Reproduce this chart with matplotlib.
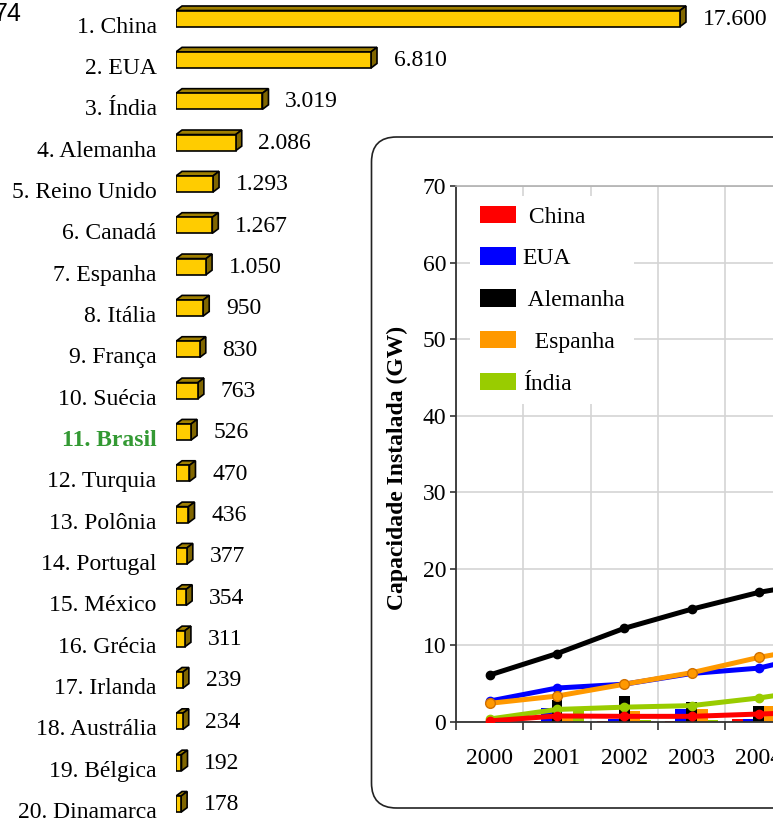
import numpy as np
import matplotlib
matplotlib.use('Agg')
import matplotlib.pyplot as plt
from matplotlib.patches import Polygon, FancyBboxPatch, Patch
from matplotlib.transforms import IdentityTransform

plt.rcParams['font.family'] = ['Liberation Serif', 'DejaVu Serif']

# Ranking: new wind capacity (MW)
countries = ['China', 'EUA', 'Índia', 'Alemanha', 'Reino Unido', 'Canadá',
             'Espanha', 'Itália', 'França', 'Suécia', 'Brasil', 'Turquia',
             'Polônia', 'Portugal', 'México', 'Grécia', 'Irlanda', 'Austrália',
             'Bélgica', 'Dinamarca']
added_mw = [17600, 6810, 3019, 2086, 1293, 1267, 1050, 950, 830, 763,
            526, 470, 436, 377, 354, 311, 239, 234, 192, 178]

# Installed capacity (GW) per year
years = [2000, 2001, 2002, 2003, 2004, 2005]
cap_china = [0.1, 0.75, 0.7, 0.7, 1.0, 1.3]
cap_eua = [2.7, 4.4, 4.9, 6.3, 7.0, 9.1]
cap_alemanha = [6.1, 8.9, 12.2, 14.7, 16.9, 18.4]
cap_espanha = [2.4, 3.35, 4.9, 6.4, 8.4, 10.0]
cap_india = [0.35, 1.6, 1.9, 2.1, 3.1, 4.4]

# Yearly additions (GW)
new_china = [0, 0.06, 0.07, 0.1, 0.35, 0.5]
new_eua = [0, 1.8, 0.4, 1.7, 0.3, 2.4]
new_alemanha = [0, 2.9, 3.3, 2.6, 2.1, 1.8]
new_espanha = [0, 1.0, 1.45, 1.6, 2.1, 1.7]
new_india = [0, 1.4, 0.2, 0.2, 0.9, 1.4]

W, H = 773, 819
fig = plt.figure(figsize=(W / 100, H / 100), dpi=100)

# ---- left: 3D-looking horizontal bars ----
ax = fig.add_axes([176 / W, 0, 1 - 176 / W, 1])
ax.set_xlim(0, 20850)
ax.set_ylim(19.36, -0.45)
ax.axis('off')

h, dx, dy = 0.39, 210, 0.11
rows = np.arange(len(countries))
ax.barh(rows, added_mw, height=h, left=0, color='#FFCC00',
        edgecolor='black', linewidth=1.2, zorder=3)
for i, v in zip(rows, added_mw):
    top = i - h / 2
    bot = i + h / 2
    ax.add_patch(Polygon([(0, top), (v, top), (v + dx, top - dy), (dx, top - dy)],
                         closed=True, fc='#A08000', ec='black', lw=1.2, zorder=2))
    ax.add_patch(Polygon([(v, top), (v + dx, top - dy), (v + dx, bot - dy), (v, bot)],
                         closed=True, fc='#806600', ec='black', lw=1.2, zorder=2))

for i, (name, v) in enumerate(zip(countries, added_mw)):
    style = dict(color='black', fontweight='normal')
    if name == 'Brasil':
        style = dict(color='#339933', fontweight='bold')
    ax.annotate(f'{i + 1}. {name}', xy=(0, i + 0.34), xytext=(-14, 0),
                textcoords='offset points', ha='right', va='baseline',
                fontsize=17, **style)
    ax.annotate(f'{v:,}'.replace(',', '.'), xy=(v + dx, i + 0.15), xytext=(12, 0),
                textcoords='offset points', ha='left', va='baseline', fontsize=17)

fig.text(22 / W, 1 - 21 / H, '74', ha='right', va='baseline', fontsize=18,
         family='Liberation Sans')

# ---- inset: installed capacity ----
fig.add_artist(FancyBboxPatch((371.5, 11), 1000, 671,
                              boxstyle='round,pad=0,rounding_size=25',
                              transform=IdentityTransform(), fc='none',
                              ec='#222222', lw=1.2))

ax2 = fig.add_axes([456 / W, (H - 721.7) / H, 673 / W, 535.7 / H])
ax2.set_xlim(-0.5, 9.5)
ax2.set_ylim(0, 70)
ax2.set_axisbelow(True)

x = np.arange(len(years))
bw = 0.16
bar_series = [(new_china, '#FF0000'), (new_eua, '#0000FF'), (new_alemanha, '#000000'),
              (new_espanha, '#FF9900'), (new_india, '#99CC00')]
for k, (vals, c) in enumerate(bar_series):
    ax2.bar(x + (k - 2) * bw, vals, width=bw, color=c, zorder=2)

lw = 3.6
ax2.plot(x, cap_alemanha, color='black', lw=lw, marker='o', ms=6, zorder=3)
ax2.plot(x, cap_eua, color='#0000FF', lw=lw, marker='o', ms=6, zorder=3)
ax2.plot(x, cap_espanha, color='#FF9900', lw=lw, marker='o', ms=7,
         mec='#D07000', zorder=3)
ax2.plot(x, cap_india, color='#99CC00', lw=lw, marker='o', ms=6, zorder=3)
ax2.plot(x, cap_china, color='#FF0000', lw=lw, marker='o', ms=6, zorder=3)

ax2.set_xticks(x)
ax2.set_xticklabels([str(y) for y in years], fontsize=17)
ax2.set_xticks(np.arange(-0.5, 10, 1), minor=True)
ax2.tick_params(axis='x', which='major', length=0, pad=19)
ax2.tick_params(axis='x', which='minor', length=6, width=1.2, color='#333333',
                direction='out')
ax2.set_yticks(range(0, 71, 10))
ax2.tick_params(axis='y', labelsize=17, length=4, width=1.2, color='#333333', pad=3)
ax2.grid(which='minor', axis='x', color='#d4d4d4', lw=1.2)
ax2.grid(which='major', axis='y', color='#d4d4d4', lw=1.2)
ax2.grid(which='major', axis='x', visible=False)

for s in ['left', 'bottom']:
    ax2.spines[s].set_color('#333333')
    ax2.spines[s].set_linewidth(1.3)
ax2.spines['top'].set_color('#b0b0b0')
ax2.spines['top'].set_linewidth(1.2)
ax2.spines['right'].set_visible(False)

ax2.set_ylabel('Capacidade Instalada (GW)', fontsize=17, fontweight='bold')
ax2.yaxis.set_label_coords(-0.071, 0.4736)

labels = [' China', 'EUA', ' Alemanha', '  Espanha', 'Índia']
colors = ['#FF0000', '#0000FF', '#000000', '#FF9900', '#99CC00']
handles = [Patch(fc=c, ec='none') for c in colors]
leg = ax2.legend(handles, labels, loc='upper left', bbox_to_anchor=(0.0209, 0.981),
                 fontsize=17, frameon=True, framealpha=1, fancybox=False,
                 borderpad=0.4, handlelength=1.53, handleheight=0.76,
                 handletextpad=0.3, labelspacing=0.84, borderaxespad=0)
leg.get_frame().set_edgecolor('none')
leg.get_frame().set_facecolor('white')

fig.savefig('out.png', dpi=100)
